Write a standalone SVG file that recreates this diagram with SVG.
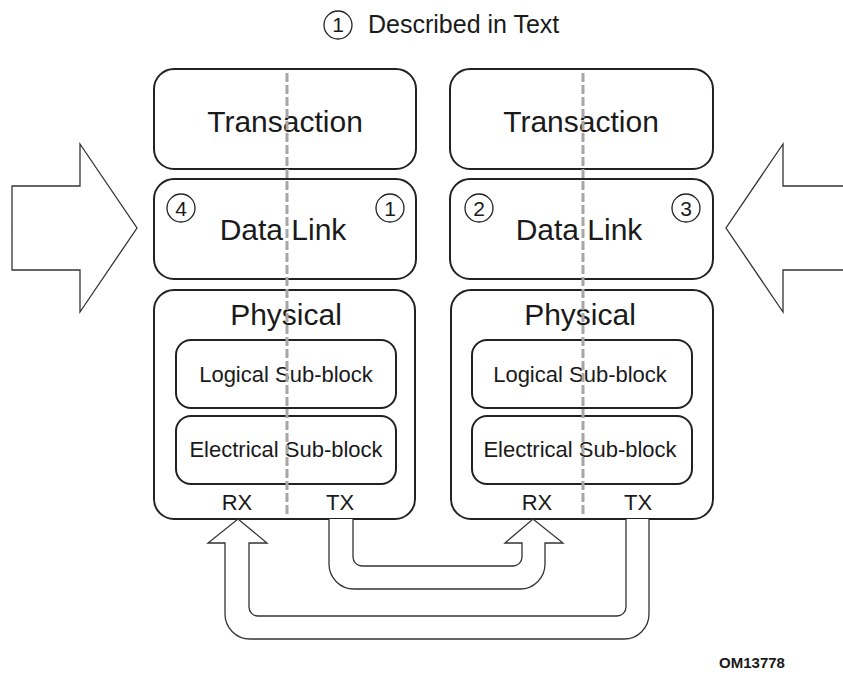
<svg xmlns="http://www.w3.org/2000/svg" width="843" height="691" viewBox="0 0 843 691">
<style>
.box{fill:#fff;stroke:#222;stroke-width:2}
.sub{fill:#fff;stroke:#222;stroke-width:2}
.dash{stroke:#a6a6a6;stroke-width:3;stroke-dasharray:9 3;fill:none}
.big{font-family:"Liberation Sans",Arial,sans-serif;font-size:30px;fill:#1a1a1a;text-anchor:middle}
.mid{font-family:"Liberation Sans",Arial,sans-serif;font-size:22px;fill:#1a1a1a;text-anchor:middle}
.num{font-family:"Liberation Sans",Arial,sans-serif;font-size:21px;fill:#1a1a1a;text-anchor:middle}
.circ{fill:none;stroke:#222;stroke-width:1.3}
.arrow{fill:#fff;stroke:#333;stroke-width:1.3;stroke-linejoin:miter}
</style>
<rect width="843" height="691" fill="#fff"/>
<g id="legend">
<circle class="circ" cx="338" cy="25" r="14"/>
<text class="num" x="338" y="32">1</text>
<text x="368" y="33" style="font-family:'Liberation Sans',Arial,sans-serif;font-size:25px;fill:#1a1a1a">Described in Text</text>
</g>
<g id="leftArrow"><polygon class="arrow" points="12,186 80,186 80,144 137,228 80,312 80,270 12,270"/></g>
<g id="rightArrow"><polygon class="arrow" points="845,186 783,186 783,144 726,228 783,312 783,270 845,270"/></g>
<g id="leftTransaction"><rect class="box" x="154" y="69" width="262" height="100" rx="20"/><text class="big" x="285" y="132">Transaction</text></g>
<g id="leftDataLink"><rect class="box" x="154" y="179" width="262" height="100" rx="20"/><text class="big" x="283" y="240">Data Link</text>
<circle class="circ" cx="181" cy="208" r="14"/><text class="num" x="181" y="215.5">4</text>
<circle class="circ" cx="390" cy="208" r="14"/><text class="num" x="390" y="215.5">1</text></g>
<g id="leftPhysical"><rect class="box" x="154" y="290" width="261" height="229" rx="20"/><text class="big" x="286" y="325">Physical</text>
<text class="mid" x="237" y="510">RX</text><text class="mid" x="340" y="510">TX</text></g>
<g id="leftLogical"><rect class="sub" x="176" y="340" width="220" height="68" rx="15"/><text class="mid" x="286" y="382">Logical Sub-block</text></g>
<g id="leftElectrical"><rect class="sub" x="176" y="416" width="220" height="68" rx="15"/><text class="mid" x="286" y="457">Electrical Sub-block</text></g>
<g id="rightTransaction"><rect class="box" x="450" y="69" width="263" height="100" rx="20"/><text class="big" x="581" y="132">Transaction</text></g>
<g id="rightDataLink"><rect class="box" x="450" y="179" width="263" height="100" rx="20"/><text class="big" x="579" y="240">Data Link</text>
<circle class="circ" cx="479" cy="208" r="14"/><text class="num" x="479" y="215.5">2</text>
<circle class="circ" cx="686" cy="208" r="14"/><text class="num" x="686" y="215.5">3</text></g>
<g id="rightPhysical"><rect class="box" x="451" y="290" width="262" height="229" rx="20"/><text class="big" x="580" y="325">Physical</text>
<text class="mid" x="537" y="510">RX</text><text class="mid" x="638" y="510">TX</text></g>
<g id="rightLogical"><rect class="sub" x="472" y="340" width="220" height="68" rx="15"/><text class="mid" x="580" y="382">Logical Sub-block</text></g>
<g id="rightElectrical"><rect class="sub" x="472" y="416" width="220" height="68" rx="15"/><text class="mid" x="580" y="457">Electrical Sub-block</text></g>
<g id="dividers">
<line class="dash" x1="287" y1="73" x2="287" y2="514"/>
<line class="dash" x1="583" y1="73" x2="583" y2="514"/>
</g>
<g id="connectors">
<path class="arrow" d="M329,519 L329,564 A25,25 0 0 0 354,589 L520,589 A25,25 0 0 0 545,564 L545,543 L563,543 L533,519 L505,543 L522,543 L522,557 A9,9 0 0 1 513,566 L362,566 A9,9 0 0 1 353,557 L353,519"/>
<path class="arrow" d="M626,519 L626,607 A9,9 0 0 1 617,616 L258,616 A9,9 0 0 1 249,607 L249,543 L267,543 L238,519 L208,543 L225,543 L225,614 A25,25 0 0 0 250,639 L624,639 A25,25 0 0 0 649,614 L649,519"/>
</g>
<text x="752" y="668" style="font-family:'Liberation Sans',Arial,sans-serif;font-size:15px;font-weight:bold;fill:#1a1a1a;text-anchor:middle">OM13778</text>
</svg>
